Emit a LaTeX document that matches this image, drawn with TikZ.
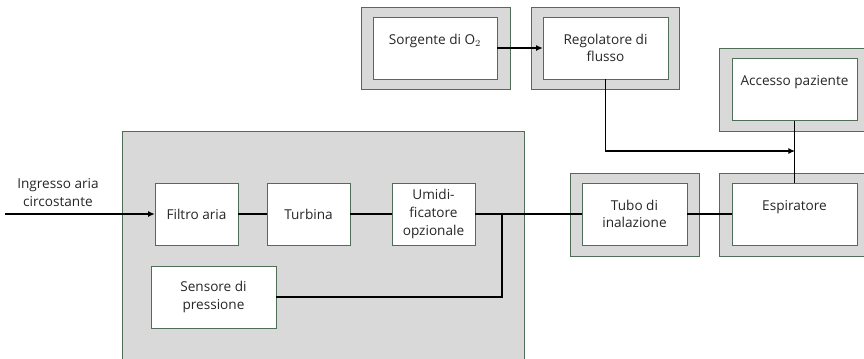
\documentclass[tikz,border=0pt]{standalone}
\usepackage{fontspec}
\setmainfont{Open Sans}
\usetikzlibrary{arrows.meta}
\definecolor{edgec}{HTML}{4E6E58}
\definecolor{panelc}{HTML}{D9D9D9}
\definecolor{txtc}{HTML}{262626}

\tikzset{
  blk/.style={draw=edgec, fill=white, inner sep=0pt, align=center,
    text=txtc, font=\fontsize{10.2}{13.2}\selectfont,
    minimum width=93.75pt, minimum height=46.5pt},
  frm/.style={draw=edgec, fill=panelc, inner sep=0pt,
    minimum width=113.25pt, minimum height=62.25pt},
  link/.style={line width=0.8pt},
  arr/.style={link, -{Latex[length=5pt,width=4.5pt]}},
}

\begin{document}
\begin{tikzpicture}[x=0.75pt, y=-0.75pt]
  \clip (0,0) rectangle (864,358);
  % gray unit panel and outer frames
  \node[frm, minimum width=301.5pt, minimum height=171.75pt] (panel) at (323,245.5) {};
  \node[frm, minimum width=111.75pt, minimum height=61.5pt] (sorgF) at (435.5,48) {};
  \node[frm, minimum width=111pt, minimum height=61.5pt] (regF) at (605,48) {};
  \node[frm] (accF) at (794.5,89.5) {};
  \node[frm, minimum width=96.75pt] (tuboF) at (634.5,214.5) {};
  \node[frm] (espF) at (794.5,214.5) {};

  % blocks
  \node[blk, minimum width=93pt] (sorg) at (435,48) {Sorgente di O$_2$\\ \mbox{}};
  \node[blk] (reg) at (605.5,48) {Regolatore di\\flusso};
  \node[blk] (acc) at (794.5,89.5) {Accesso paziente\\ \mbox{}};
  \node[blk, minimum width=78.75pt] (tubo) at (634.5,214) {Tubo di\\inalazione};
  \node[blk] (esp) at (794.5,214) {Espiratore\\ \mbox{}};
  \node[blk, minimum width=62.25pt] (filtro) at (196.5,214) {Filtro aria};
  \node[blk, minimum width=62.25pt] (turb) at (308.5,214) {Turbina};
  \node[blk, minimum width=62.25pt] (umid) at (433.5,214) {Umidi-\\ficatore\\opzionale};
  \node[blk] (sens) at (213.5,297) {Sensore di\\pressione};
  \node[align=center, text=txtc, font=\fontsize{10.2}{13.2}\selectfont] (ingr) at (58,192.5) {Ingresso aria\\circostante};

  \coordinate (src) at (5,214);
  \coordinate (tap) at (502,214);
  \coordinate (mix) at (795,151);

  % connectors
  \draw[arr] (src) -- (filtro);
  \draw[link, line width=1.4pt] (filtro) -- (turb);
  \draw[link] (turb) -- (umid);
  \draw[link] (umid) -- (tubo);
  \draw[link] (sens.east) -| (tap);
  \draw[link] (tubo) -- (esp);
  \draw[arr] (sorg) -- (reg);
  \draw[arr] (reg.south) |- (mix);
  \draw[link] (esp.north) -- (acc.south);
\end{tikzpicture}
\end{document}
